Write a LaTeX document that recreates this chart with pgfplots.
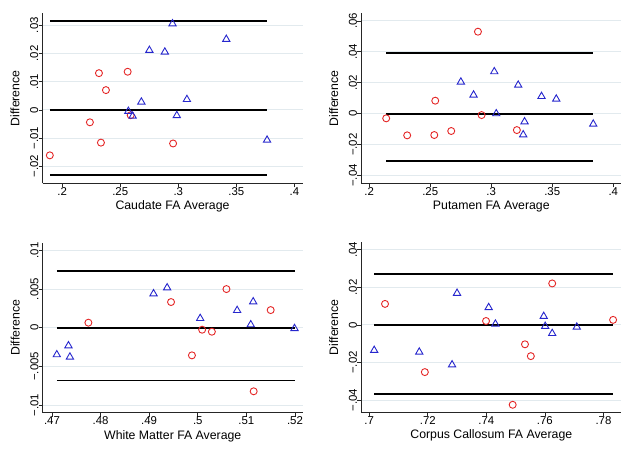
\documentclass[border=0pt]{standalone}
\usepackage{fontspec}
\setmainfont{Liberation Sans}
\usepackage{pgfplots}
\pgfplotsset{compat=1.18}
\definecolor{mkred}{RGB}{228,38,38}
\definecolor{mkblue}{RGB}{38,38,205}
\definecolor{gridc}{RGB}{226,234,238}
\newcommand\tickfont{\fontsize{11.4}{13}\selectfont}
\newcommand\titlefont{\fontsize{12.3}{14}\selectfont}
\pgfplotsset{
  baplot/.style={
    scale only axis, width=260pt, height=170pt,
    scaled x ticks=false, scaled y ticks=false,
    axis x line*=bottom, axis y line*=left,
    axis line style={line width=0.8pt, black!85, -},
    tick align=outside, major tick length=4pt,
    every tick/.style={black!85, line width=0.7pt},
    ymajorgrids, grid style={line width=0.9pt, gridc},
    every axis y label/.style={at={(axis description cs:-0.106,0.5)}, anchor=center, rotate=90, font=\titlefont},
    every axis x label/.style={at={(axis description cs:0.5,-0.1376)}, anchor=center, font=\titlefont},
    yticklabel style={rotate=90, anchor=south, inner sep=0pt, font=\tickfont},
    xticklabel style={anchor=north, inner sep=0pt, font=\tickfont},
    ylabel={Difference},
  },
  circ/.style={only marks, mark=o, mark size=3.5pt, mark options={mkred, line width=0.9pt}},
  tri/.style={only marks, mark=triangle, mark size=4.2pt, mark options={mkblue, line width=0.9pt}},
  hl/.style={black, line width=1.7pt, no marks},
}
\begin{document}
\begin{tikzpicture}
\path[use as bounding box] (0,0) rectangle (636pt,460pt);
% Panel 1: Caudate
\begin{axis}[baplot, at={(42.5pt,276.7pt)}, anchor=south west,
  xmin=0.1831, xmax=0.4069, ymin=-0.026, ymax=0.0342,
  xtick={0.2,0.25,0.3,0.35,0.4}, xticklabels={.2,.25,.3,.35,.4},
  ytick={-0.02,-0.01,0,0.01,0.02,0.03}, yticklabels={−.02,−.01,0,.01,.02,.03},
  xlabel={Caudate FA Average}]
\addplot[hl] coordinates {(0.1894,0.0314) (0.3764,0.0314)};
\addplot[hl] coordinates {(0.1894,0) (0.3764,0)};
\addplot[hl] coordinates {(0.1894,-0.0231) (0.3764,-0.0231)};
\addplot[circ] coordinates {(0.1894,-0.0161) (0.2239,-0.0044) (0.2317,0.0130) (0.2334,-0.0116) (0.2377,0.0070) (0.2564,0.0135) (0.2590,-0.0019) (0.2955,-0.0119)};
\addplot[tri] coordinates {(0.2570,-0.0005) (0.2607,-0.0022) (0.2682,0.0028) (0.2751,0.0211) (0.2884,0.0205) (0.2950,0.0305) (0.2987,-0.0020) (0.3074,0.0037) (0.3413,0.0250) (0.3764,-0.0107)};
\end{axis}
% Panel 2: Putamen
\begin{axis}[baplot, at={(361.3pt,276.7pt)}, anchor=south west,
  xmin=0.1935, xmax=0.4066, ymin=-0.045, ymax=0.0649,
  xtick={0.2,0.25,0.3,0.35,0.4}, xticklabels={.2,.25,.3,.35,.4},
  ytick={-0.04,-0.02,0,0.02,0.04,0.06}, yticklabels={−.04,−.02,0,.02,.04,.06},
  xlabel={Putamen FA Average}]
\addplot[hl] coordinates {(0.2139,0.0394) (0.3836,0.0394)};
\addplot[hl] coordinates {(0.2139,0) (0.3836,0)};
\addplot[hl] coordinates {(0.2139,-0.0306) (0.3836,-0.0306)};
\addplot[circ] coordinates {(0.2139,-0.0030) (0.2311,-0.0140) (0.2533,-0.0138) (0.2541,0.0084) (0.2672,-0.0112) (0.2891,0.0530) (0.2921,-0.0009) (0.3210,-0.0106)};
\addplot[tri] coordinates {(0.2751,0.0205) (0.2855,0.0121) (0.3025,0.0272) (0.3041,0.0000) (0.3221,0.0185) (0.3262,-0.0136) (0.3273,-0.0052) (0.3412,0.0112) (0.3533,0.0095) (0.3836,-0.0067)};
\end{axis}
% Panel 3: White Matter
\begin{axis}[baplot, at={(42.7pt,47.3pt)}, anchor=south west,
  xmin=0.4681, xmax=0.5216, ymin=-0.011, ymax=0.011,
  xtick={0.47,0.48,0.49,0.5,0.51,0.52}, xticklabels={.47,.48,.49,.5,.51,.52},
  ytick={-0.01,-0.005,0,0.005,0.01}, yticklabels={−.01,−.005,0,.005,.01},
  xlabel={White Matter FA Average}]
\addplot[hl] coordinates {(0.4710,0.00737) (0.5199,0.00737)};
\addplot[hl] coordinates {(0.4710,0) (0.5199,0)};
\addplot[hl] coordinates {(0.4710,-0.00685) (0.5199,-0.00685)};
\addplot[circ] coordinates {(0.4775,0.00065) (0.4945,0.00332) (0.4988,-0.00358) (0.5009,-0.00026) (0.5029,-0.00052) (0.5059,0.00500) (0.5115,-0.00823) (0.5150,0.00228)};
\addplot[tri] coordinates {(0.4710,-0.00349) (0.4734,-0.00233) (0.4737,-0.00379) (0.4909,0.00440) (0.4937,0.00517) (0.5005,0.00121) (0.5081,0.00224) (0.5109,0.00039) (0.5114,0.00336) (0.5199,-0.00010)};
\end{axis}
% Panel 4: Corpus Callosum
\begin{axis}[baplot, at={(361.3pt,47.7pt)}, anchor=south west,
  xmin=0.6973, xmax=0.7861, ymin=-0.0465, ymax=0.044,
  xtick={0.7,0.72,0.74,0.76,0.78}, xticklabels={.7,.72,.74,.76,.78},
  ytick={-0.04,-0.02,0,0.02,0.04}, yticklabels={−.04,−.02,0,.02,.04},
  xlabel={Corpus Callosum FA Average}]
\addplot[hl] coordinates {(0.7017,0.0272) (0.7833,0.0272)};
\addplot[hl] coordinates {(0.7017,0) (0.7833,0)};
\addplot[hl] coordinates {(0.7017,-0.0367) (0.7833,-0.0367)};
\addplot[circ] coordinates {(0.7054,0.0112) (0.7190,-0.0251) (0.7399,0.0021) (0.7490,-0.0425) (0.7532,-0.0103) (0.7552,-0.0166) (0.7625,0.0221) (0.7833,0.0027)};
\addplot[tri] coordinates {(0.7017,-0.0135) (0.7171,-0.0144) (0.7283,-0.0212) (0.7300,0.0169) (0.7408,0.0093) (0.7431,0.0005) (0.7596,0.0046) (0.7601,-0.0007) (0.7625,-0.0045) (0.7709,-0.0011)};
\end{axis}
\end{tikzpicture}
\end{document}
